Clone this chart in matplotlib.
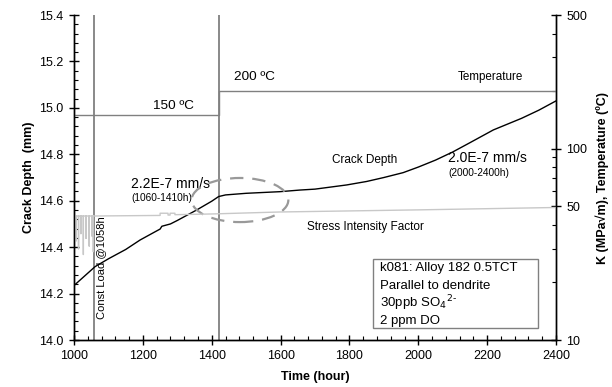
import matplotlib
matplotlib.use("Agg")
import matplotlib.pyplot as plt
from matplotlib.patches import Ellipse, Rectangle
from matplotlib.ticker import MultipleLocator, FixedLocator, NullFormatter, FormatStrFormatter

plt.rcParams['font.family'] = ['Liberation Sans', 'DejaVu Sans']

# crack depth (mm) vs time (h)
crack_t = [1000, 1061, 1100, 1150, 1192, 1240, 1250, 1255, 1280, 1300, 1356, 1400, 1420,
           1440, 1500, 1598, 1656, 1700, 1792, 1850, 1900, 1956, 2000, 2050, 2100,
           2150, 2218, 2300, 2350, 2400]
crack_d = [14.235, 14.316, 14.35, 14.39, 14.431, 14.47, 14.478, 14.49, 14.50, 14.515, 14.56,
           14.598, 14.618, 14.625, 14.632, 14.639, 14.646, 14.65, 14.668, 14.683, 14.70,
           14.721, 14.745, 14.775, 14.81, 14.85, 14.905, 14.955, 14.99, 15.03]

# stress intensity factor K (MPa sqrt m), dips during loading at start
sif_t = [1000, 1006, 1006, 1006, 1013, 1013, 1013, 1020, 1020, 1020, 1027, 1027, 1027,
         1035, 1035, 1035, 1044, 1044, 1044, 1052, 1052, 1052, 1056, 1056, 1056, 1062,
         1250, 1250, 1273, 1273, 1279, 1279, 1293, 1293, 1400, 1598, 2000, 2400]
sif_k = [44.5, 44.5, 33, 44.5, 44.5, 30, 44.5, 44.5, 36, 44.5, 44.5, 28, 44.5,
         44.5, 34, 44.5, 44.5, 31, 44.5, 44.5, 35, 44.5, 44.5, 29, 44.5, 44.5,
         44.8, 46.0, 46.0, 45.0, 45.0, 46.0, 46.0, 45.2, 45.6, 46.7, 47.9, 49.3]

# temperature (C)
temp_t = [1000, 1420, 1420, 2400]
temp_c = [150, 150, 200, 200]

info_lines = ['k081: Alloy 182 0.5TCT', 'Parallel to dendrite',
              '30ppb SO$_4$$^{2\\text{-}}$', '2 ppm DO']

fig = plt.figure(figsize=(6.12, 3.87), dpi=100)
ax = fig.add_axes([0.121, 0.1214, 0.7875, 0.8398])
ax2 = ax.twinx()

ax.plot(crack_t, crack_d, color='black', lw=1.0, zorder=3)
ax2.plot(sif_t, sif_k, color='#c8c8c8', lw=1.0)
ax2.plot(temp_t, temp_c, color='#808080', lw=1.0)
ax.axvline(1058, color='#808080', lw=1.3)
ax.axvline(1420, color='#808080', lw=1.3)

ax.set_xlim(1000, 2400)
ax.set_ylim(14.0, 15.4)
ax2.set_yscale('log')
ax2.set_ylim(10, 500)

ax.xaxis.set_major_locator(MultipleLocator(200))
ax.xaxis.set_minor_locator(MultipleLocator(40))
ax.yaxis.set_major_locator(MultipleLocator(0.2))
ax.yaxis.set_minor_locator(MultipleLocator(0.04))
ax.yaxis.set_major_formatter(FormatStrFormatter('%.1f'))
ax2.yaxis.set_major_locator(FixedLocator([10, 50, 100, 500]))
ax2.yaxis.set_major_formatter(FormatStrFormatter('%d'))
ax2.yaxis.set_minor_locator(FixedLocator([20, 30, 40, 60, 70, 80, 90, 200, 300, 400]))
ax2.yaxis.set_minor_formatter(NullFormatter())

ax.tick_params(which='major', direction='inout', length=7, width=1, labelsize=9, pad=4)
ax.tick_params(which='minor', direction='in', length=3, width=0.8)
ax.tick_params(axis='x', which='both', top=False)
ax2.tick_params(which='major', direction='inout', length=7, width=1, labelsize=9, pad=4)
ax2.tick_params(which='minor', direction='in', length=3, width=0.8)
for a in (ax, ax2):
    a.spines['top'].set_visible(False)
    for s in a.spines.values():
        s.set_linewidth(1.0)

ax.set_xlabel('Time (hour)', fontsize=9, fontweight='bold', labelpad=6)
ax.set_ylabel('Crack Depth  (mm)', fontsize=9, fontweight='bold', labelpad=3)
ax2.set_ylabel('K (MPa\u221am), Temperature (\u00baC)', fontsize=9, fontweight='bold', labelpad=6)

ax.add_patch(Ellipse((1482, 14.603), 281, 0.19, fill=False, ec='#999999', lw=1.6,
                     ls=(0, (6, 4)), zorder=4))

ax.text(1165, 14.672, '2.2E-7 mm/s', fontsize=10, va='center')
ax.text(1166, 14.613, '(1060-1410h)', fontsize=7.3, va='center')
ax.text(1748, 14.776, 'Crack Depth', fontsize=8.5, va='center')
ax.text(2087, 14.784, '2.0E-7 mm/s', fontsize=10, va='center')
ax.text(2087, 14.72, '(2000-2400h)', fontsize=7.3, va='center')
ax.text(1676, 14.487, 'Stress Intensity Factor', fontsize=8.5, va='center')
ax.text(1230, 15.009, '150 \u00baC', fontsize=9.7, va='center')
ax.text(1466, 15.132, '200 \u00baC', fontsize=9.7, va='center')
ax.text(2116, 15.134, 'Temperature', fontsize=8.4, va='center')
ax.text(1078, 14.09, 'Const Load @1058h', fontsize=8, rotation=90, ha='center', va='bottom')

# info box
ax.add_patch(Rectangle((1869, 14.05), 479, 0.30, fill=True, fc='white', ec='#808080',
                       lw=1.0, zorder=5))
for i, line in enumerate(info_lines):
    ax.text(1889, 14.31 - i * 0.076, line, fontsize=9.5, va='center', ha='left', zorder=6)

fig.savefig('out.png', dpi=100)
